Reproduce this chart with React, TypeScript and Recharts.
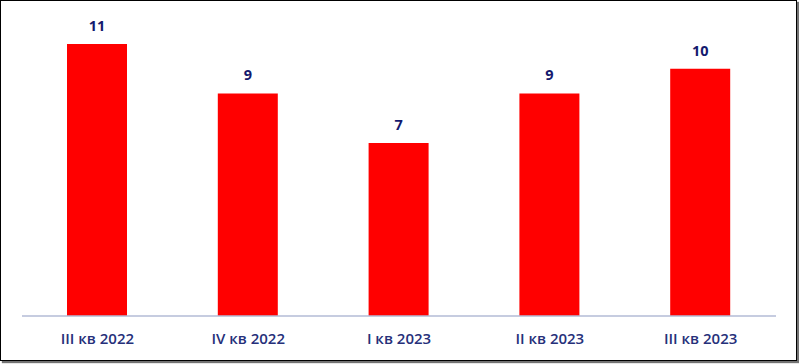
import React from "react";
import { BarChart, Bar, XAxis, YAxis, LabelList } from "recharts";

// quarters and values
const quarters = ["III кв 2022", "IV кв 2022", "I кв 2023", "II кв 2023", "III кв 2023"];
const counts = [11, 9, 7, 9, 10];

const data = quarters.map((q, i) => ({ quarter: q, value: counts[i] }));

export default function App() {
  return (
    <div
      style={{
        position: "absolute",
        left: 0,
        top: 0,
        width: 799,
        height: 364,
        background: "#fff",
      }}
    >
      <style>{`body{margin:0}`}</style>
      {/* frame with a little shadow on the right and bottom */}
      <div
        style={{
          position: "absolute",
          left: 0,
          top: 0,
          width: 795,
          height: 359,
          border: "1px solid #000",
          boxShadow: "2px 2px 1px rgba(0,0,0,0.55)",
        }}
      />
      <div style={{ position: "absolute", left: 0, top: 0 }}>
        <BarChart
          width={799}
          height={364}
          data={data}
          margin={{ top: 44, right: 23, left: 22, bottom: 18 }}
          barCategoryGap={0}
        >
          <XAxis
            dataKey="quarter"
            height={30}
            tickLine={false}
            axisLine={{ stroke: "#b3bbd6", strokeWidth: 1.5 }}
            tickMargin={11}
            tick={{ fill: "#26307a", fontSize: 15, fontFamily: "Open Sans, sans-serif", fontWeight: 600 }}
            interval={0}
          />
          <YAxis hide domain={[0, 11]} />
          <Bar dataKey="value" fill="#ff0000" barSize={60} isAnimationActive={false}>
            <LabelList
              dataKey="value"
              position="top"
              offset={13}
              fill="#14196e"
              fontSize={14.5}
              fontWeight={700}
              fontFamily="Open Sans, sans-serif"
            />
          </Bar>
        </BarChart>
      </div>
    </div>
  );
}
